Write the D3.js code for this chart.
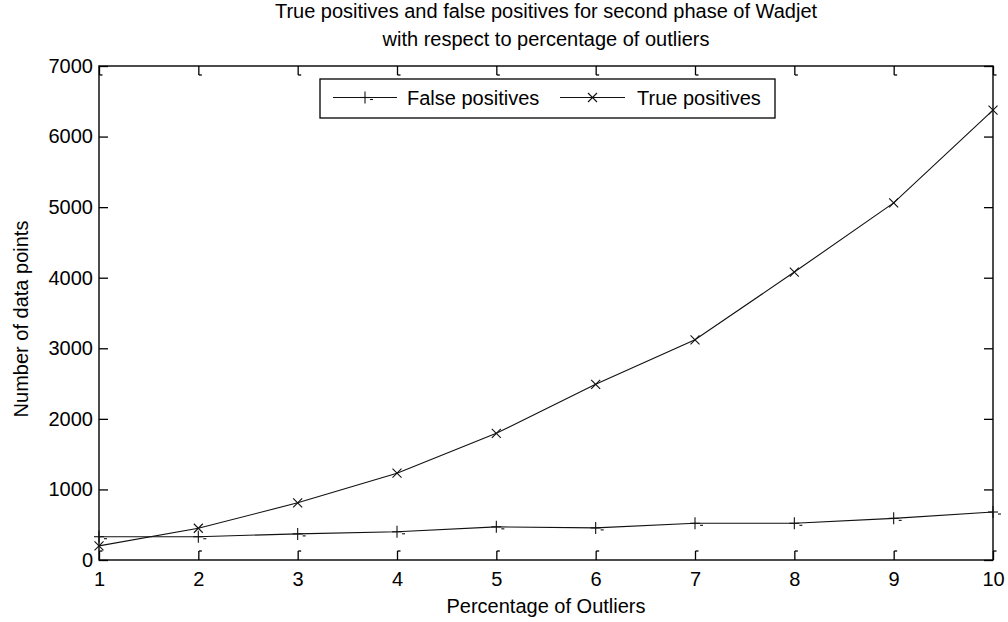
<!DOCTYPE html>
<html>
<head>
<meta charset="utf-8">
<script src="https://cdn.jsdelivr.net/npm/d3@7"></script>
<style>
  html, body { margin: 0; padding: 0; background: #fff; }
  svg { display: block; font-family: "Liberation Sans", Arial, Helvetica, sans-serif; }
</style>
</head>
<body>
<svg id="chart" width="1008" height="622"></svg>
<script>
// Percentage of outliers injected (x axis)
const outlierPct = [1, 2, 3, 4, 5, 6, 7, 8, 9, 10];
// Detected points in the second phase of Wadjet
const falsePositives = [330, 330, 370, 400, 470, 455, 520, 520, 590, 680];
const truePositives  = [200, 450, 810, 1230, 1795, 2490, 3120, 4080, 5060, 6375];
// Axis ticks
const xTicks = [1, 2, 3, 4, 5, 6, 7, 8, 9, 10];
const yTicks = [0, 1000, 2000, 3000, 4000, 5000, 6000, 7000];

const titleLines = [
  "True positives and false positives for second phase of Wadjet",
  "with respect to percentage of outliers"
];
const xLabel = "Percentage of Outliers";
const yLabel = "Number of data points";
const seriesNames = ["False positives", "True positives"];

const svg = d3.select("#chart");
const plot = { left: 99, right: 993, top: 66, bottom: 560 };
const FS = 20;

const x = d3.scaleLinear().domain([1, 10]).range([plot.left, plot.right]);
const y = d3.scaleLinear().domain([0, 7000]).range([plot.bottom, plot.top]);

const ink = "#000";
const tickLen = 9;

// Axes with inward ticks on all four sides (boxed axes)
function styleAxis(g) {
  g.select(".domain").remove();
  g.selectAll(".tick line").attr("stroke", ink).attr("stroke-width", 1.3);
  g.selectAll(".tick text").attr("fill", ink).style("font-size", FS + "px")
    .style("font-family", "'Liberation Sans', Arial, sans-serif");
}

svg.append("g")
  .attr("transform", `translate(0,${plot.bottom})`)
  .call(d3.axisBottom(x).tickValues(xTicks).tickFormat(d3.format("d"))
    .tickSizeInner(-tickLen).tickSizeOuter(0).tickPadding(12))
  .call(styleAxis)
  .call(g => g.selectAll(".tick").append("line")
    .attr("x1", 0).attr("x2", 3).attr("y1", -tickLen).attr("y2", -tickLen)
    .attr("stroke", ink).attr("stroke-width", 1.3));

svg.append("g")
  .attr("transform", `translate(0,${plot.top})`)
  .call(d3.axisTop(x).tickValues(xTicks).tickFormat("")
    .tickSizeInner(-tickLen).tickSizeOuter(0))
  .call(styleAxis)
  .call(g => g.selectAll(".tick").append("line")
    .attr("x1", 0).attr("x2", 3).attr("y1", tickLen).attr("y2", tickLen)
    .attr("stroke", ink).attr("stroke-width", 1.3));

svg.append("g")
  .attr("transform", `translate(${plot.left},0)`)
  .call(d3.axisLeft(y).tickValues(yTicks).tickFormat(d3.format("d"))
    .tickSizeInner(-tickLen).tickSizeOuter(0).tickPadding(6))
  .call(styleAxis)
  .call(g => g.selectAll(".tick text").attr("x", -6));

svg.append("g")
  .attr("transform", `translate(${plot.right},0)`)
  .call(d3.axisRight(y).tickValues(yTicks).tickFormat("")
    .tickSizeInner(-tickLen).tickSizeOuter(0))
  .call(styleAxis);

// Plot box
svg.append("rect")
  .attr("x", plot.left).attr("y", plot.top)
  .attr("width", plot.right - plot.left).attr("height", plot.bottom - plot.top)
  .attr("fill", "none").attr("stroke", ink).attr("stroke-width", 1.4);

// Series lines
const line = d3.line().x((d, i) => x(outlierPct[i])).y(d => y(d));

function plusMarker(g, cx, cy) {
  g.append("line").attr("x1", cx).attr("x2", cx).attr("y1", cy - 6).attr("y2", cy + 6);
  g.append("line").attr("x1", cx - 5).attr("x2", cx + 5).attr("y1", cy).attr("y2", cy);
  g.append("line").attr("x1", cx + 5).attr("x2", cx + 8).attr("y1", cy + 2).attr("y2", cy + 2);
}
function crossMarker(g, cx, cy) {
  const r = 4.5;
  g.append("line").attr("x1", cx - r).attr("x2", cx + r).attr("y1", cy - r).attr("y2", cy + r);
  g.append("line").attr("x1", cx - r).attr("x2", cx + r).attr("y1", cy + r).attr("y2", cy - r);
}

const series = [
  { name: seriesNames[0], values: falsePositives, marker: plusMarker },
  { name: seriesNames[1], values: truePositives, marker: crossMarker }
];

series.forEach(s => {
  svg.append("path")
    .attr("d", line(s.values))
    .attr("fill", "none").attr("stroke", "#111").attr("stroke-width", 1.1);
  const mg = svg.append("g").attr("stroke", "#111").attr("stroke-width", 1.1);
  s.values.forEach((v, i) => s.marker(mg, x(outlierPct[i]), y(v)));
});

// Title
svg.append("g").selectAll("text").data(titleLines).join("text")
  .attr("x", (plot.left + plot.right) / 2)
  .attr("y", (d, i) => 18 + i * 28)
  .attr("text-anchor", "middle")
  .style("font-size", FS + "px").attr("fill", ink)
  .text(d => d);

// Axis titles
svg.append("text")
  .attr("x", (plot.left + plot.right) / 2).attr("y", 613)
  .attr("text-anchor", "middle").style("font-size", FS + "px").attr("fill", ink)
  .text(xLabel);

svg.append("text")
  .attr("transform", `translate(28,${(plot.top + plot.bottom) / 2 + 6}) rotate(-90)`)
  .attr("text-anchor", "middle").style("font-size", FS + "px").attr("fill", ink)
  .text(yLabel);

// Legend
const legend = svg.append("g");
const lg = { x0: 320, x1: 775, y0: 79, y1: 118 };
legend.append("rect")
  .attr("x", lg.x0).attr("y", lg.y0).attr("width", lg.x1 - lg.x0).attr("height", lg.y1 - lg.y0)
  .attr("fill", "#fff").attr("stroke", ink).attr("stroke-width", 1.3);
const ly = (lg.y0 + lg.y1) / 2 - 1;
const items = [
  { lineX: [333, 397], textX: 407 },
  { lineX: [560, 625], textX: 637 }
];
series.forEach((s, i) => {
  const it = items[i];
  legend.append("line")
    .attr("x1", it.lineX[0]).attr("x2", it.lineX[1]).attr("y1", ly).attr("y2", ly)
    .attr("stroke", "#111").attr("stroke-width", 1.1);
  const mg = legend.append("g").attr("stroke", "#111").attr("stroke-width", 1.1);
  s.marker(mg, (it.lineX[0] + it.lineX[1]) / 2, ly);
  legend.append("text")
    .attr("x", it.textX).attr("y", ly + 7)
    .style("font-size", FS + "px").attr("fill", ink)
    .text(s.name);
});
</script>
</body>
</html>
